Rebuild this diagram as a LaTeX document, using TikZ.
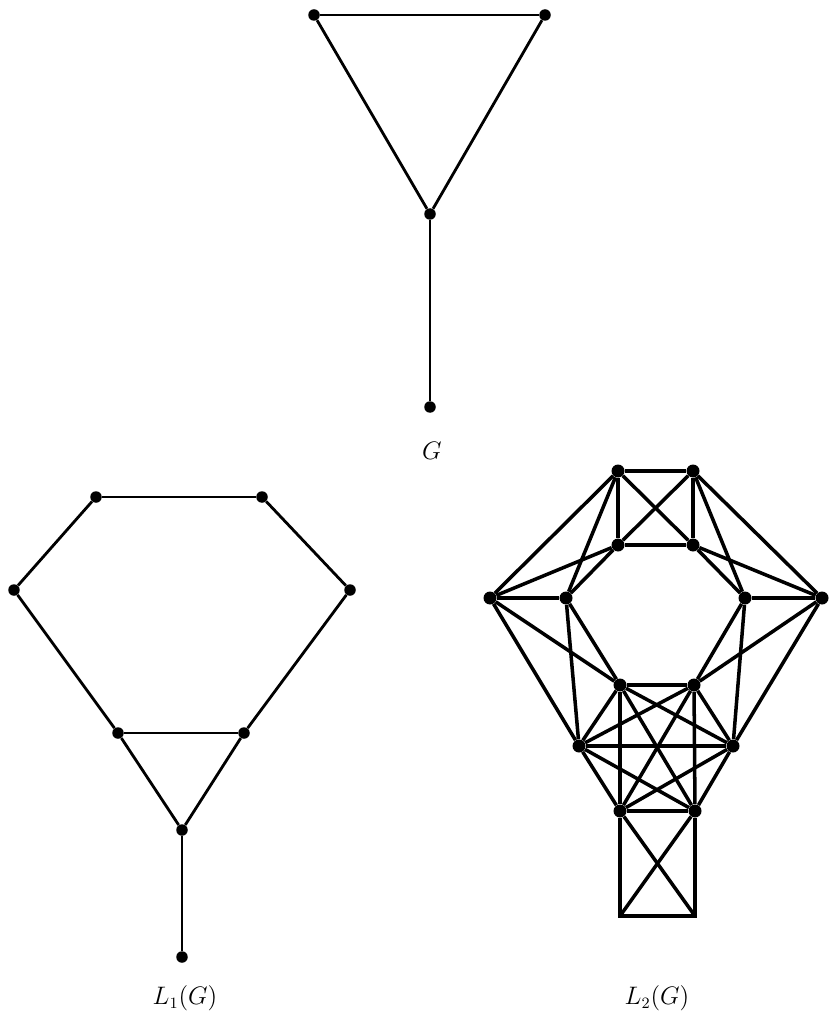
\documentclass[tikz,border=0pt]{standalone}
\usepackage{amsmath}
\usepackage{tikz}
\usetikzlibrary{positioning}

\begin{document}
\begin{tikzpicture}[
  x=0.02cm, y=-0.02cm,
  vtx/.style={circle,fill=black,inner sep=0pt,minimum size=0.23cm},
  bigvtx/.style={circle,fill=black,inner sep=0pt,minimum size=0.26cm},
  edge/.style={line width=1.6pt},
  thickedge/.style={line width=2pt},
  lbl/.style={font=\fontsize{13.5}{16}\selectfont}
]
\useasboundingbox (0,0) rectangle (830,1020);
% G
\node[vtx] (g1) at (314,15)  {};
\node[vtx] (g2) at (545,15)  {};
\node[vtx] (g3) at (430,214) {};
\node[vtx] (g4) at (430,407) {};
\draw[edge] (g1) -- (g2); \draw[edge] (g1) -- (g3);
\draw[edge] (g2) -- (g3); \draw[edge] (g3) -- (g4);
\node[lbl] (gl) at (432,451) {$G$};
% L_1(G)
\node[vtx] (a1) at (96,497)  {};
\node[vtx] (a2) at (262,497) {};
\node[vtx] (a3) at (14,590)  {};
\node[vtx] (a4) at (350,590) {};
\node[vtx] (a5) at (118,733) {};
\node[vtx] (a6) at (244,733) {};
\node[vtx] (a7) at (182,830) {};
\node[vtx] (a8) at (182,957) {};
\draw[edge] (a1) -- (a2); \draw[edge] (a1) -- (a3);
\draw[edge] (a2) -- (a4); \draw[edge] (a3) -- (a5);
\draw[edge] (a4) -- (a6); \draw[edge] (a5) -- (a6);
\draw[edge] (a5) -- (a7); \draw[edge] (a6) -- (a7);
\draw[edge] (a7) -- (a8);
\node[lbl] (l1) at (185,998) {$L_1(G)$};
% L_2(G)
\node[bigvtx] (t1) at (618,471) {};
\node[bigvtx] (t2) at (693,471) {};
\node[bigvtx] (s1) at (618,545) {};
\node[bigvtx] (s2) at (693,545) {};
\node[bigvtx] (o1) at (490,598) {};
\node[bigvtx] (i1) at (566,598) {};
\node[bigvtx] (i2) at (745,598) {};
\node[bigvtx] (o2) at (822,598) {};
\node[bigvtx] (m1) at (620,685) {};
\node[bigvtx] (m2) at (694,685) {};
\node[bigvtx] (w1) at (579,746) {};
\node[bigvtx] (w2) at (733,746) {};
\node[bigvtx] (b1) at (620,811) {};
\node[bigvtx] (b2) at (695,811) {};
\coordinate (c1) at (620,916);
\coordinate (c2) at (695,916);
\draw[thickedge] (t1) -- (t2); \draw[thickedge] (s1) -- (s2);
\draw[thickedge] (t1) -- (s1); \draw[thickedge] (t2) -- (s2);
\draw[thickedge] (t1) -- (s2); \draw[thickedge] (t2) -- (s1);
\draw[thickedge] (t1) -- (o1); \draw[thickedge] (t1) -- (i1);
\draw[thickedge] (t2) -- (o2); \draw[thickedge] (t2) -- (i2);
\draw[thickedge] (s1) -- (o1); \draw[thickedge] (s1) -- (i1);
\draw[thickedge] (s2) -- (o2); \draw[thickedge] (s2) -- (i2);
\draw[thickedge] (o1) -- (i1); \draw[thickedge] (i2) -- (o2);
\draw[thickedge] (o1) -- (m1); \draw[thickedge] (o1) -- (w1);
\draw[thickedge] (i1) -- (m1); \draw[thickedge] (i1) -- (w1);
\draw[thickedge] (o2) -- (m2); \draw[thickedge] (o2) -- (w2);
\draw[thickedge] (i2) -- (m2); \draw[thickedge] (i2) -- (w2);
\draw[thickedge] (m1) -- (m2); \draw[thickedge] (w1) -- (w2);
\draw[thickedge] (b1) -- (b2);
\draw[thickedge] (m1) -- (w1); \draw[thickedge] (m2) -- (w2);
\draw[thickedge] (m1) -- (w2); \draw[thickedge] (m2) -- (w1);
\draw[thickedge] (m1) -- (b1); \draw[thickedge] (m2) -- (b2);
\draw[thickedge] (m1) -- (b2); \draw[thickedge] (m2) -- (b1);
\draw[thickedge] (w1) -- (b1); \draw[thickedge] (w2) -- (b2);
\draw[thickedge] (w1) -- (b2); \draw[thickedge] (w2) -- (b1);
\draw[thickedge] (b1) -- (c1); \draw[thickedge] (b2) -- (c2);
\draw[thickedge] (b1) -- (c2); \draw[thickedge] (b2) -- (c1);
\draw[thickedge,line cap=rect] (c1) -- (c2);
\node[lbl] (l2) at (657,998) {$L_2(G)$};
\end{tikzpicture}
\end{document}
